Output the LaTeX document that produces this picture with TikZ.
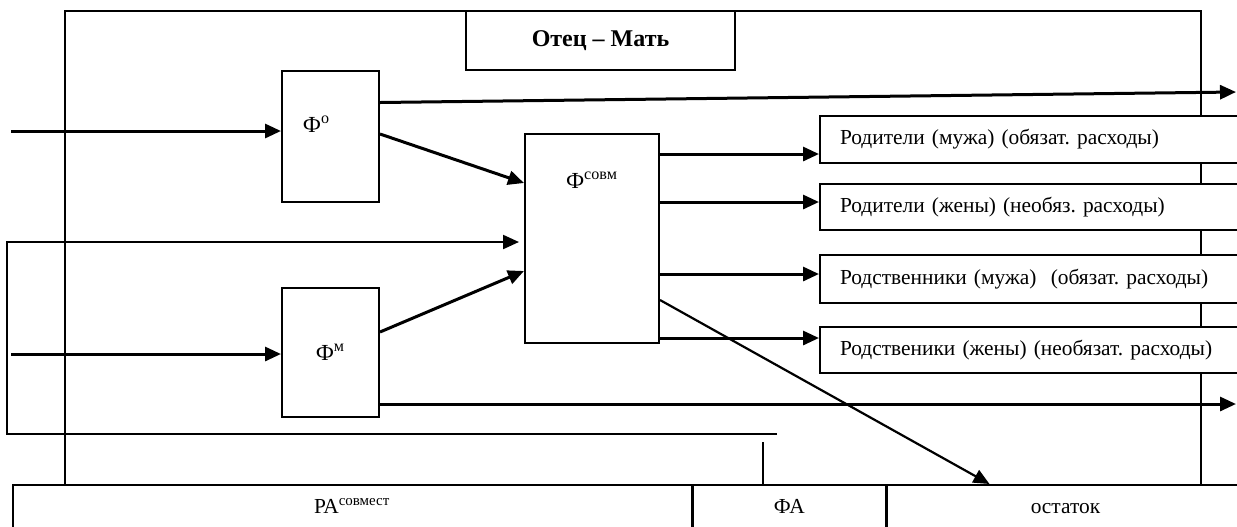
\documentclass[tikz,border=0pt]{standalone}
\usepackage{fontspec}
\setmainfont{Liberation Serif}
\usetikzlibrary{arrows.meta, positioning}
\frenchspacing

\begin{document}
\begin{tikzpicture}[
    x=0.5pt, y=-0.5pt,
    every node/.style={font=\fontsize{10.7}{13}\selectfont},
    frame/.style={draw, line width=0.8pt},
    block/.style={rectangle, draw, line width=1pt, fill=white, inner sep=0pt},
    outbox/.style={rectangle, draw, line width=1pt, fill=white, anchor=west,
        minimum height=23.5pt, text width=200pt, inner xsep=10pt, align=left},
    band/.style={rectangle, draw, line width=0.8pt, minimum height=23pt, inner sep=0pt,
        text height=8pt, text depth=2.5pt},
    arr/.style={-{Triangle[length=8pt, width=7pt]}, line width=1.5pt},
    thinarr/.style={-{Triangle[length=8pt, width=7pt]}, line width=1.1pt}
]
\useasboundingbox (0,0) rectangle (1237,526);

% Outer frame
\draw[frame] (65,484) -- (65,11) -- (1201,11) -- (1201,484);

% Title
\node[block, minimum width=134.5pt, minimum height=29.5pt,
    font={\fontsize{12}{14}\selectfont\bfseries}] (title) at (600.5,40.5) {Отец – Мать};

% Funds
\node[block, minimum width=48.5pt, minimum height=65.5pt,
    label={[xshift=-7pt, yshift=6pt, font=\fontsize{11.5}{13}\selectfont]center:Ф\textsuperscript{о}}] (fo) at (330.5,136.5) {};
\node[block, minimum width=48.5pt, minimum height=64.5pt,
    font=\fontsize{11.5}{13}\selectfont] (fm) at (330.5,352.5) {Ф\textsuperscript{м}};
\node[block, minimum width=67pt, minimum height=104.5pt,
    label={[yshift=29pt, font=\fontsize{11.5}{13}\selectfont]center:Ф\textsuperscript{совм}}] (fs) at (592,238.5) {};

% Expense boxes
\node[outbox] (r1) at (819,139.5) {Родители (мужа) (обязат. расходы)};
\node[outbox, minimum height=23pt, below=9.5pt of r1] (r2) {Родители (жены) (необяз. расходы)};
\node[outbox, minimum height=24pt, below=11.5pt of r2] (r3) {Родственники (мужа)\ \ (обязат. расходы)};
\node[outbox, minimum height=23pt, below=11pt of r3] (r4) {Родственики (жены) (необязат. расходы)};

% Bottom band
\node[band, minimum width=339.5pt, anchor=north west] (pa) at (12,484) {РА\textsuperscript{совмест}};
\node[band, minimum width=96pt, right=0pt of pa] (fa) {ФА};
\node[band, minimum width=178.5pt, right=0pt of fa] (ost) {остаток};

% Inputs
\coordinate (inO) at (11,131);
\coordinate (inM) at (11,354);
\draw[arr] (inO) -- (inO -| fo.west);
\draw[arr] (inM) -- (inM -| fm.west);

% Outputs leaving the frame
\coordinate (outO) at (1236,92);
\coordinate (outM) at (1236,404);
\draw[arr] ([yshift=17pt]fo.east) -- (outO);
\draw[arr] (outM -| fm.east) -- (outM);

% Into the joint fund
\draw[arr] ([yshift=1.25pt]fo.east) -- ([yshift=27.75pt]fs.west);
\draw[arr] ([yshift=10.25pt]fm.east) -- ([yshift=-16.25pt]fs.west);

% Return loop
\coordinate (lpR) at (777,434);
\coordinate (lpL) at (7,434);
\draw[thinarr, shorten >=2.5pt] (lpR) -- (lpL) |- ([yshift=-1.75pt]fs.west);
\coordinate (tk) at (763,442);
\draw[frame] (tk) -- (tk |- fa.north);

% Joint fund to expenses
\coordinate (e1) at ([yshift=-7.25pt]r1.west);
\coordinate (e2) at ([yshift=2.5pt]r2.west);
\coordinate (e3) at ([yshift=2.5pt]r3.west);
\coordinate (e4) at ([yshift=6pt]r4.west);
\draw[arr] (e1 -| fs.east) -- (e1);
\draw[arr] (e2 -| fs.east) -- (e2);
\draw[arr] (e3 -| fs.east) -- (e3);
\draw[arr] (e4 -| fs.east) -- (e4);
\draw[thinarr] ([yshift=-30.75pt]fs.east) -- ([xshift=-38pt]ost.north);

\end{tikzpicture}
\end{document}
